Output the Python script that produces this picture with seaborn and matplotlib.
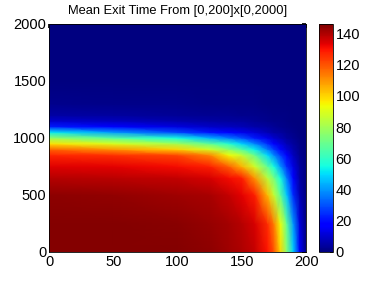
import numpy as np
import pandas as pd
import seaborn as sns
import matplotlib
matplotlib.use("Agg")
import matplotlib.pyplot as plt

x_pts = [0, 50, 100, 125, 140, 150, 160, 170, 175, 180, 185, 190, 195, 200]
y_pts = [0, 250, 500, 650, 750, 850, 900, 950, 1000, 1050, 1100, 1150, 1200, 1300, 1500, 2000]

# mean exit time, one list per row of y
row_0    = [145, 145, 145, 144, 142, 140, 137, 130, 120, 100, 75, 48, 16, 0]
row_250  = [145, 145, 144.5, 143, 141, 139, 135, 126, 113, 93, 68, 40, 12, 0]
row_500  = [144, 143.5, 142, 140.5, 137, 133, 128, 104, 86, 68, 47, 24, 7, 0]
row_650  = [139, 138.5, 137, 135, 131, 128, 110, 84, 72, 55, 36, 18, 5, 0]
row_750  = [134, 133, 131, 128, 118, 105, 88, 68, 55, 40, 25, 13, 4, 0]
row_850  = [127, 125, 122, 112, 94, 86, 70, 50, 38, 27, 16, 8, 2.5, 0]
row_900  = [117, 110, 100, 88, 76, 66, 53, 36, 27, 19, 11, 6, 2, 0]
row_950  = [98, 90, 80, 68, 58, 49, 38, 25, 18, 12, 7, 4, 1.5, 0]
row_1000 = [78, 67, 55, 44, 36, 30, 22, 14, 10, 7, 4, 2.5, 1, 0]
row_1050 = [52, 40, 28, 21, 17, 14, 11, 7, 5, 4, 2.5, 1.5, 0.5, 0]
row_1100 = [22, 17, 12, 9.5, 8, 7, 5.5, 4, 3, 2, 1.5, 1, 0.3, 0]
row_1150 = [10, 8, 6, 5, 4.5, 4, 3, 2, 1.7, 1.3, 1, 0.5, 0.2, 0]
row_1200 = [5, 4, 3, 2.8, 2.5, 2.2, 1.8, 1.3, 1, 0.8, 0.6, 0.3, 0.1, 0]
row_1300 = [2, 1.6, 1.2, 1, 0.9, 0.8, 0.7, 0.5, 0.4, 0.3, 0.2, 0.1, 0, 0]
row_1500 = [0.5, 0.4, 0.3, 0.3, 0.2, 0.2, 0.2, 0.1, 0.1, 0.1, 0, 0, 0, 0]
row_2000 = [0, 0, 0, 0, 0, 0, 0, 0, 0, 0, 0, 0, 0, 0]

rows = [row_0, row_250, row_500, row_650, row_750, row_850, row_900, row_950,
        row_1000, row_1050, row_1100, row_1150, row_1200, row_1300, row_1500, row_2000]
df = pd.DataFrame(rows, index=y_pts, columns=x_pts)

x_ticks = [0, 50, 100, 150, 200]
y_ticks = [0, 500, 1000, 1500, 2000]
cb_ticks = [0, 20, 40, 60, 80, 100, 120, 140]

sns.set_theme(style="white", rc={'text.color': 'black', 'xtick.color': 'black',
                                 'ytick.color': 'black', 'axes.labelcolor': 'black'})
plt.rcParams['font.family'] = ['Liberation Sans', 'DejaVu Sans']

fig = plt.figure(figsize=(3.77, 2.84), dpi=100)
ax = fig.add_axes([0.130, 0.1127, 0.682, 0.8028])
cax = fig.add_axes([0.846, 0.1127, 0.037, 0.8028])

mesh = ax.pcolormesh(df.columns.values, df.index.values, df.values,
                     shading='gouraud', cmap='jet', vmin=0, vmax=146)
ax.set_xlim(0, 200)
ax.set_ylim(0, 2000)
ax.set_xticks(x_ticks)
ax.set_yticks(y_ticks)
ax.tick_params(labelsize=10.5, length=3, direction='in', top=True, right=True, pad=2,
               color='black')
ax.set_title('Mean Exit Time From [0,200]x[0,2000]', fontsize=9.3, pad=7)
for s in ax.spines.values():
    s.set_color('black')
    s.set_linewidth(0.6)

cb = fig.colorbar(mesh, cax=cax, ticks=cb_ticks)
cb.ax.tick_params(labelsize=10.5, length=2, direction='in', pad=2)
cb.outline.set_edgecolor('black')
cb.outline.set_linewidth(0.6)

fig.savefig('out.png', dpi=100)
